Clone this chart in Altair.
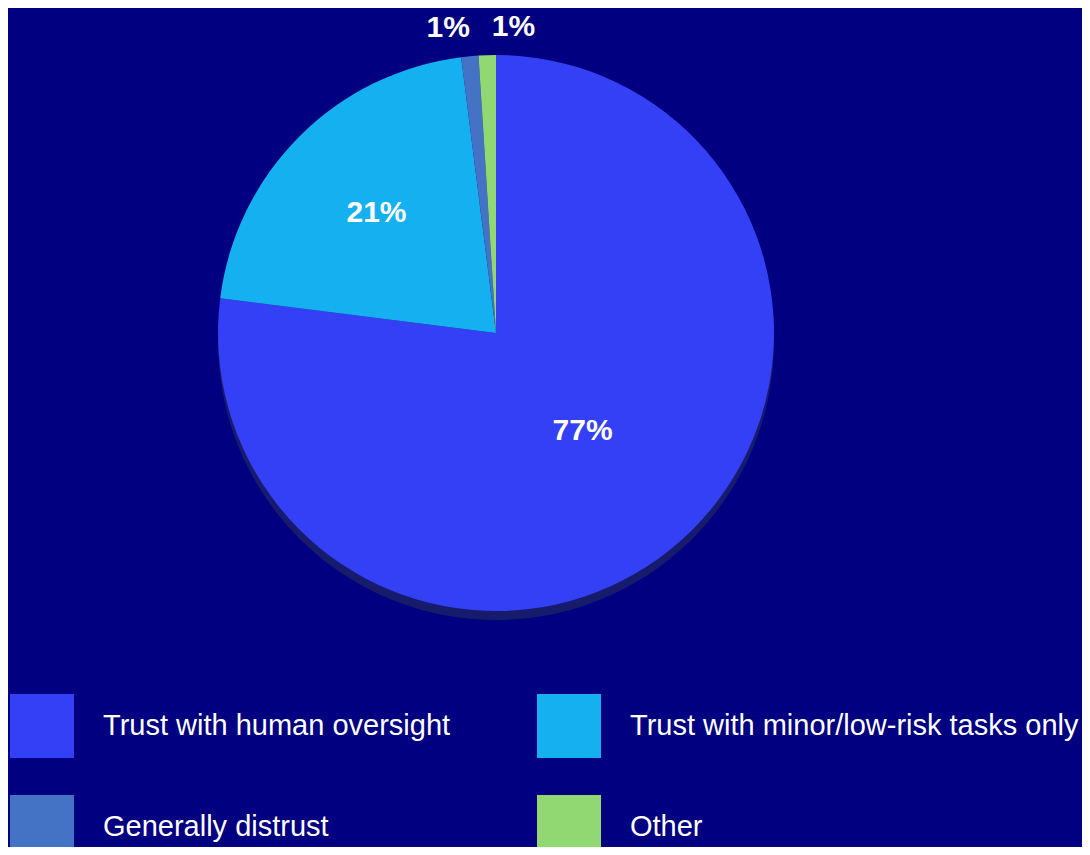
import altair as alt
import pandas as pd

categories = [
    "Trust with human oversight",
    "Trust with minor/low-risk tasks only",
    "Generally distrust",
    "Other",
]
values = [77, 21, 1, 1]
labels = ["77%", "21%", "1%", "1%"]
colors = ["#3440F6", "#14B0F0", "#4472C4", "#92D872"]

df = pd.DataFrame({
    "category": categories,
    "value": values,
    "label": labels,
    "idx": list(range(len(categories))),
})

BG = "#000080"
CX, CY = 488, 325   # pie centre inside the view (layout)
R = 278
TOTAL = sum(values)
theta_scale = alt.Scale(domain=[0, TOTAL])

shadow = alt.Chart(df).mark_arc(radius=R, color="#171B6C").encode(
    theta=alt.Theta("value:Q", stack=True, scale=theta_scale),
    order=alt.Order("idx:Q"),
    x=alt.value(CX),
    y=alt.value(CY + 9),
)

pie = alt.Chart(df).mark_arc(radius=R, strokeWidth=0).encode(
    theta=alt.Theta("value:Q", stack=True, scale=theta_scale),
    order=alt.Order("idx:Q"),
    color=alt.Color(
        "category:N",
        sort=categories,
        scale=alt.Scale(domain=categories, range=colors),
        legend=alt.Legend(
            title=None,
            orient="none",
            direction="horizontal",
            legendX=2,
            legendY=686,
            columns=2,
            symbolType="square",
            symbolSize=4096,
            symbolStrokeWidth=0,
            labelFont="Liberation Sans",
            labelFontSize=29,
            labelColor="white",
            labelLimit=700,
            labelOffset=29,
            columnPadding=86,
            rowPadding=37,
            padding=0,
        ),
    ),
    x=alt.value(CX),
    y=alt.value(CY),
)

text_style = dict(
    font="Liberation Sans", fontSize=30, fontWeight="bold", color="white",
    align="center", baseline="middle",
)

lab_base = alt.Chart(df).transform_window(
    cum="sum(value)", sort=[alt.SortField("idx")], frame=[None, 0]
).transform_calculate(
    mid="datum.cum - datum.value / 2",
    lr="datum.value > 50 ? 131 : (datum.value > 10 ? 169 : 306)",
)

def label_layer(filter_expr, dx=0):
    return lab_base.transform_filter(filter_expr).mark_text(dx=dx, **text_style).encode(
        theta=alt.Theta("mid:Q", stack=None, scale=theta_scale),
        radius=alt.Radius("lr:Q", scale=None),
        text="label:N",
        x=alt.value(CX),
        y=alt.value(CY),
    )

big_labels = label_layer("datum.value > 5")
small_a = label_layer("datum.category == 'Generally distrust'", dx=-19)
small_b = label_layer("datum.category == 'Other'", dx=27)

chart = alt.layer(shadow, pie, big_labels, small_a, small_b).resolve_scale(
    theta="shared"
).properties(
    width=1074,
    height=839,
    background=BG,
    padding=0,
    autosize=alt.AutoSizeParams(type="none"),
).configure_view(stroke=None)

chart.save("out.html", embed_options={"renderer": "svg", "actions": False})
